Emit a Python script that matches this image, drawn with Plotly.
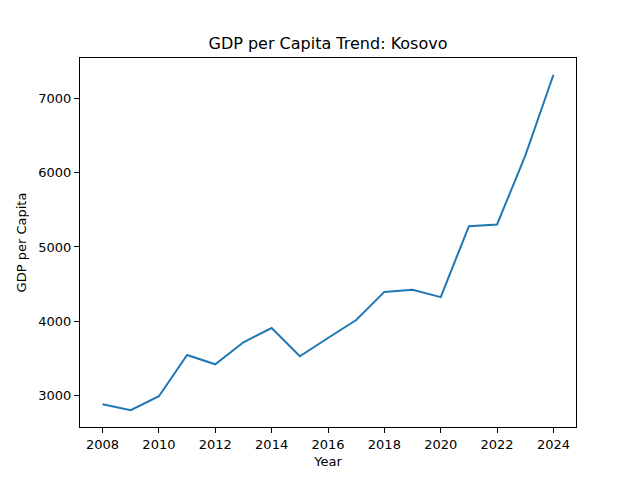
import plotly.graph_objects as go

years = list(range(2008, 2025))
gdp_per_capita = [2886, 2805, 2993, 3548, 3423, 3718, 3910, 3530, 3776, 4017,
                  4396, 4425, 4326, 5279, 5302, 6228, 7315]

ymin, ymax = min(gdp_per_capita), max(gdp_per_capita)
ypad = (ymax - ymin) * 0.05
xpad = (years[-1] - years[0]) * 0.05

fig = go.Figure()
fig.add_trace(go.Scatter(x=years, y=gdp_per_capita, mode="lines",
                         line=dict(color="#1f77b4", width=2)))

axis_common = dict(showline=True, linecolor="black", linewidth=1, mirror=True,
                   ticks="outside", ticklen=5, tickwidth=1, tickcolor="black",
                   showgrid=False, zeroline=False,
                   tickfont=dict(family="DejaVu Sans", size=13, color="black"))

# page body has an 8px offset; margins compensate so the axes land where the reference has them
fig.update_layout(
    width=640, height=480,
    margin=dict(l=72, r=72, t=50, b=61),
    paper_bgcolor="white", plot_bgcolor="white",
    showlegend=False,
    title=dict(text="GDP per Capita Trend: Kosovo", x=(328 - 8) / 640, xanchor="center",
               y=1 - 35 / 480, yanchor="middle",
               font=dict(family="DejaVu Sans", size=16, color="black")),
    xaxis=dict(range=[years[0] - xpad, years[-1] + xpad],
               tickvals=list(range(2008, 2025, 2)),
               title=dict(text="Year", standoff=6,
                          font=dict(family="DejaVu Sans", size=13, color="black")),
               **axis_common),
    yaxis=dict(range=[ymin - ypad, ymax + ypad],
               tickvals=[3000, 4000, 5000, 6000, 7000],
               title=dict(text="GDP per Capita", standoff=8,
                          font=dict(family="DejaVu Sans", size=13, color="black")),
               **axis_common),
)

fig.write_html("out.html")
